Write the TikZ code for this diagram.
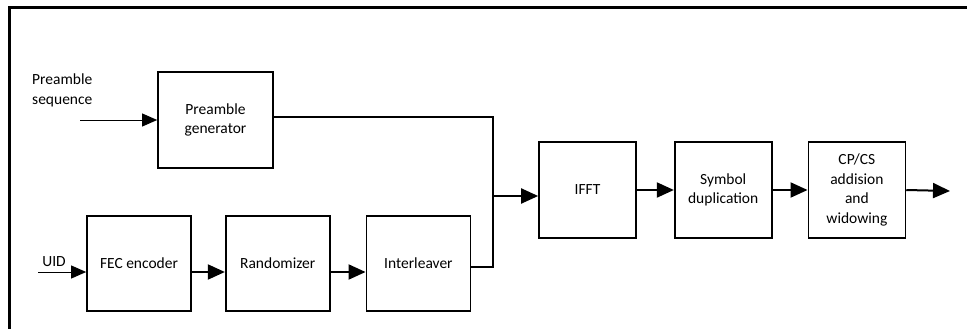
\documentclass[tikz,border=0pt]{standalone}
\usepackage{fontspec}
\setmainfont{Carlito}
\usetikzlibrary{arrows.meta,positioning}

\begin{document}
\begin{tikzpicture}[x=1pt,y=-1pt,font=\fontsize{15.5}{19.5}\selectfont]
		\tikzstyle{block}=[draw=black, line width=1.7pt, minimum width=104pt, minimum height=95pt, align=center, inner sep=2pt]
		\tikzstyle{block_up}=[block, minimum width=97pt, minimum height=96pt]
		\tikzstyle{link}=[line width=2pt, -{Triangle[length=17pt,width=15pt]}]
		\tikzstyle{feed}=[line width=0.9pt, -{Triangle[length=15pt,width=13pt]}]
		\tikzstyle{wire}=[line width=2pt]
		\tikzstyle{label_text}=[align=left, inner sep=0pt]

		\useasboundingbox (0,0) rectangle (967,329);
		\draw [line width=2.2pt] (9.5,329) -- (9.5,7.5) -- (967,7.5);

		% preamble branch
		\node [block, minimum width=115pt, minimum height=96pt] (pgen) at (215.5,120) {Preamble\\generator};
		\node [label_text, anchor=west] (seq) at (32,90.5) {Preamble\\sequence};
		\coordinate (seq_in) at (80,120);
		\draw [feed] (seq_in) -- (pgen.west);

		% data branch
		\node [block] (fec) at (139,263.5) {FEC encoder};
		\node [block] (rand) [right=33pt of fec] {Randomizer};
		\node [block] (inter) [right=35pt of rand] {Interleaver};
		\coordinate (uid_in) at (38,272);
		\node [label_text] (uid) at (54,262) {UID};
		\draw [feed] (uid_in) -- ([yshift=-8.5pt]fec.west);
		\draw [link] ([yshift=-8.5pt]fec.east) -- ([yshift=-8.5pt]rand.west);
		\draw [link] ([yshift=-8.5pt]rand.east) -- ([yshift=-8.5pt]inter.west);

		% ofdm part
		\node [block_up] (ifft) at (587.5,190) {IFFT};
		\node [block_up] (sym) [right=37pt of ifft] {Symbol\\duplication};
		\node [block_up] (cpcs) [right=35pt of sym] {CP/CS\\addision\\and\\widowing};
		\coordinate (merge) at (493,196);
		\coordinate (out) at (950,191);
		\draw [wire] ([yshift=3pt]pgen.east) -| (merge);
		\draw [wire] ([yshift=-3.5pt]inter.east) -| (merge);
		\draw [link] (merge) -- (merge -| ifft.west);
		\draw [link] (ifft.east) -- (sym.west);
		\draw [link] (sym.east) -- (cpcs.west);
		\draw [link] (cpcs.east) -- (out);
	\end{tikzpicture}
\end{document}
